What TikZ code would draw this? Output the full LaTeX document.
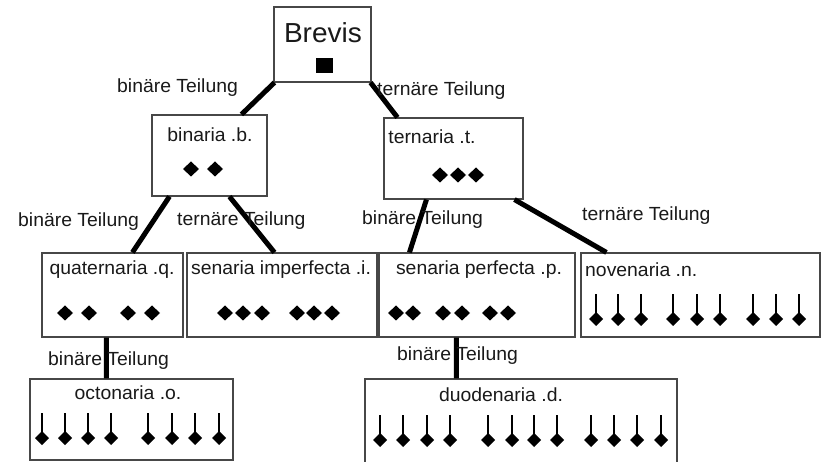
\documentclass[tikz,border=0pt]{standalone}
\usepackage{fontspec}
\newfontfamily\lab[FakeStretch=1.02]{Liberation Sans}
\usetikzlibrary{calc}
\begin{document}
\begin{tikzpicture}[x=1bp,y=-1bp,
  box/.style={draw=black!72, line width=1.1bp, inner sep=0, fill=none},
  lbl/.style={font=\lab\fontsize{19bp}{21bp}\selectfont, inner sep=0, text=black!90},
  conn/.style={line width=5bp, black},
  sb/.pic={\fill (-8,0)--(0,-7.5)--(8,0)--(0,7.5)--cycle;},
  mn/.pic={\fill (-7,0)--(0,-7)--(7,0)--(0,7)--cycle;
           \draw[line width=1.5bp] (0,0)--(0,-25);}]
\useasboundingbox (0,0) rectangle (826,462);
\clip (0,0) rectangle (826,462);
\fill[white] (0,0) rectangle (826,462);

% boxes
\node[box, minimum width=97bp, minimum height=75bp] (brevis) at (322.5,44.5) {};
\node[box, minimum width=115bp, minimum height=81bp] (binaria) at (209.5,155.5) {};
\node[box, minimum width=139bp, minimum height=81bp] (ternaria) at (453.5,158.5) {};
\node[box, minimum width=141bp, minimum height=84bp] (quat) at (112.5,295) {};
\node[box, minimum width=190bp, minimum height=84bp] (senimp) at (282,295) {};
\node[box, minimum width=196bp, minimum height=84bp] (senperf) at (477,295) {};
\node[box, minimum width=239bp, minimum height=84bp] (noven) at (700.5,295) {};
\node[box, minimum width=203bp, minimum height=81bp] (octo) at (131.5,419.5) {};
\node[box, minimum width=312bp, minimum height=100bp] (duod) at (521,429) {};

% titles
\node[inner sep=0, font=\lab\fontsize{27.5bp}{30bp}\selectfont, text=black!90] (tbrevis) at (323,33) {Brevis};
\node[lbl] (tbin) at (210,135) {binaria .b.};
\node[lbl] (tter) at (432,137) {ternaria .t.};
\node[lbl] (tquat) at (112,270) {quaternaria .q.};
\node[lbl] (tsenimp) at (281,270) {senaria imperfecta .i.};
\node[lbl] (tsenperf) at (479,270) {senaria perfecta .p.};
\node[lbl, anchor=west] (tnoven) at (585,270) {novenaria .n.};
\node[lbl] (tocto) at (128,393) {octonaria .o.};
\node[lbl] (tduod) at (501,395) {duodenaria .d.};

% connectors
\draw[conn] ([xshift=1bp]brevis.south west) -- ([xshift=90bp]binaria.north west);
\draw[conn] ([xshift=-1bp]brevis.south east) -- ([xshift=14bp]ternaria.north west);
\draw[conn] ([xshift=18bp]binaria.south west) -- ([xshift=91bp]quat.north west);
\draw[conn] ([xshift=78bp]binaria.south west) -- ([xshift=88bp]senimp.north west);
\draw[conn] ([xshift=43bp]ternaria.south west) -- ([xshift=31bp]senperf.north west);
\draw[conn] ([xshift=131bp]ternaria.south west) -- ([xshift=26bp]noven.north west);
\draw[conn] ([xshift=65bp]quat.south west) -- ([xshift=77bp]octo.north west);
\draw[conn] ([xshift=78bp]senperf.south west) -- ([xshift=92bp]duod.north west);

% connector labels
\node[lbl, anchor=west] (l1) at (117,88) {binäre Teilung};
\node[lbl, anchor=west] (l2) at (377,91) {ternäre Teilung};
\node[lbl, anchor=west] (l3) at (18,222) {binäre Teilung};
\node[lbl, anchor=west] (l4) at (177,221) {ternäre Teilung};
\node[lbl, anchor=west] (l5) at (362,220) {binäre Teilung};
\node[lbl, anchor=west] (l6) at (582,216) {ternäre Teilung};
\node[lbl, anchor=west] (l7) at (48,361) {binäre Teilung};
\node[lbl, anchor=west] (l8) at (397,356) {binäre Teilung};

% brevis square
\fill (316,58) rectangle (333,73);

% semibreves
\foreach \x in {191,215} \pic at (\x,169) {sb};
\foreach \x in {440,458,476} \pic at (\x,175) {sb};
\foreach \x in {65,89,128,152} \pic at (\x,313) {sb};
\foreach \x in {225,243,262,297,314,332} \pic at (\x,313) {sb};
\foreach \x in {396,413,443,462,490,508} \pic at (\x,313) {sb};

% minims
\foreach \x in {596,618,641,673,697,720,753,776,799} \pic at (\x,319) {mn};
\foreach \x in {42,65,88,111,148,172,195,219} \pic at (\x,438) {mn};
\foreach \x in {380,403,427,450,488,512,534,557,591,614,637,661} \pic at (\x,440) {mn};
\end{tikzpicture}
\end{document}
